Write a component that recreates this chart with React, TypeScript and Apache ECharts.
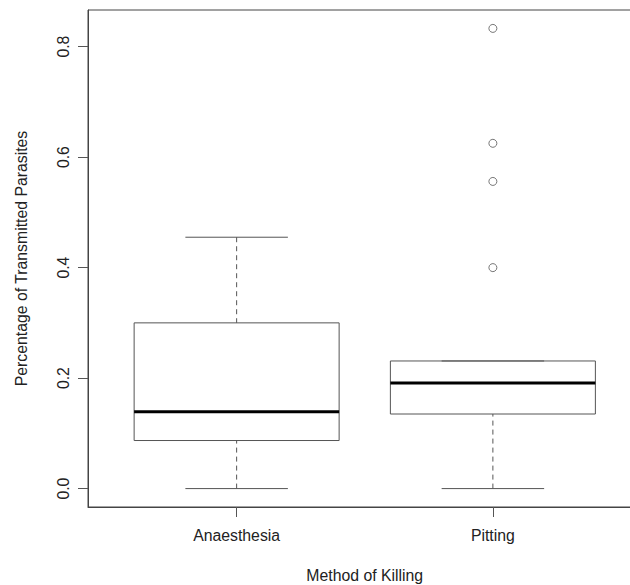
import React, { useEffect, useRef } from "react";
import * as echarts from "echarts";

const categories = ["Anaesthesia", "Pitting"];
const lowerWhisker = [0, 0];
const q1 = [0.087, 0.135];
const median = [0.139, 0.191];
const q3 = [0.3, 0.231];
const upperWhisker = [0.455, 0.231];
const outliers: number[][] = [[], [0.4, 0.556, 0.625, 0.833]];
const yTicks = [0, 0.2, 0.4, 0.6, 0.8];
const xTicks = [1, 2];

const FONT = "Liberation Sans, Arial, Helvetica, sans-serif";
const LINE = "#555";
const FS = 15.8;

export default function App() {
  const ref = useRef<HTMLDivElement>(null);
  useEffect(() => {
    if (!ref.current) return;
    const chart = echarts.init(ref.current, undefined, { renderer: "svg" });

    const allVals = [...lowerWhisker, ...upperWhisker, ...outliers.flat()];
    const dMin = Math.min(...allVals);
    const dMax = Math.max(...allVals);
    const pad = (dMax - dMin) * 0.04;
    const nCat = categories.length;
    const xPad = nCat * 0.04;

    const boxData = categories.map((_, i) => [
      i + 1,
      lowerWhisker[i],
      q1[i],
      median[i],
      q3[i],
      upperWhisker[i],
    ]);
    const outlierData: number[][] = [];
    outliers.forEach((arr, i) => arr.forEach((v) => outlierData.push([i + 1, v])));

    chart.setOption({
      animation: false,
      grid: {
        left: 88,
        top: 10,
        right: -11.5,
        bottom: 78,
        show: true,
        borderColor: "#444",
        borderWidth: 1,
        backgroundColor: "transparent",
        containLabel: false,
        outerBoundsMode: "none",
      },
      xAxis: {
        type: "value",
        min: 0.5 - xPad,
        max: nCat + 0.5 + xPad,
        splitLine: { show: false },
        axisLine: { show: true, onZero: false, lineStyle: { color: "#444", width: 1 } },
        axisTick: {
          show: true,
          length: 10,
          customValues: xTicks,
          lineStyle: { color: LINE },
        },
        axisLabel: {
          customValues: xTicks,
          formatter: (v: number) => categories[Math.round(v) - 1] ?? "",
          fontFamily: FONT,
          fontSize: FS,
          color: "#222",
          margin: 20,
        },
        name: "Method of Killing",
        nameLocation: "middle",
        nameGap: 60,
        nameTextStyle: { fontFamily: FONT, fontSize: FS, color: "#222" },
      },
      yAxis: {
        type: "value",
        min: dMin - pad,
        max: dMax + pad,
        splitLine: { show: false },
        axisLine: { show: true, onZero: false, lineStyle: { color: "#444", width: 1 } },
        axisTick: {
          show: true,
          length: 10,
          customValues: yTicks,
          lineStyle: { color: LINE },
        },
        axisLabel: {
          customValues: yTicks,
          formatter: (v: number) => v.toFixed(1),
          rotate: 90,
          fontFamily: FONT,
          fontSize: FS,
          color: "#222",
          margin: 17,
        },
        name: "Percentage of Transmitted Parasites",
        nameLocation: "middle",
        nameRotate: 90,
        nameGap: 59,
        nameTextStyle: { fontFamily: FONT, fontSize: FS, color: "#222" },
      },
      series: [
        {
          type: "custom",
          data: boxData,
          encode: { x: 0, y: [1, 2, 3, 4, 5] },
          renderItem: (params: any, api: any) => {
            const x = api.value(0);
            const lo = api.coord([x, api.value(1)]);
            const b1 = api.coord([x, api.value(2)]);
            const md = api.coord([x, api.value(3)]);
            const b3 = api.coord([x, api.value(4)]);
            const hi = api.coord([x, api.value(5)]);
            const bw = api.size([0.8, 0])[0];
            const cw = api.size([0.4, 0])[0];
            const cx = lo[0];
            const thin = { stroke: LINE, lineWidth: 1, fill: "none" };
            return {
              type: "group",
              children: [
                {
                  type: "line",
                  shape: { x1: cx, y1: lo[1], x2: cx, y2: b1[1] },
                  style: { ...thin, lineDash: [5, 4] },
                },
                {
                  type: "line",
                  shape: { x1: cx, y1: hi[1], x2: cx, y2: b3[1] },
                  style: { ...thin, lineDash: [5, 4] },
                },
                {
                  type: "line",
                  shape: { x1: cx - cw / 2, y1: lo[1], x2: cx + cw / 2, y2: lo[1] },
                  style: thin,
                },
                {
                  type: "line",
                  shape: { x1: cx - cw / 2, y1: hi[1], x2: cx + cw / 2, y2: hi[1] },
                  style: thin,
                },
                {
                  type: "rect",
                  shape: { x: cx - bw / 2, y: b3[1], width: bw, height: b1[1] - b3[1] },
                  style: thin,
                },
                {
                  type: "line",
                  shape: { x1: cx - bw / 2, y1: md[1], x2: cx + bw / 2, y2: md[1] },
                  style: { stroke: "#000", lineWidth: 3 },
                },
              ],
            };
          },
        },
        {
          type: "scatter",
          data: outlierData,
          symbol: "circle",
          symbolSize: 8,
          itemStyle: { color: "transparent", borderColor: LINE, borderWidth: 1 },
        },
      ],
    });
    return () => chart.dispose();
  }, []);
  return (
    <div
      ref={ref}
      style={{ position: "absolute", left: 0, top: 0, width: 630, height: 585, background: "#fff" }}
    />
  );
}
